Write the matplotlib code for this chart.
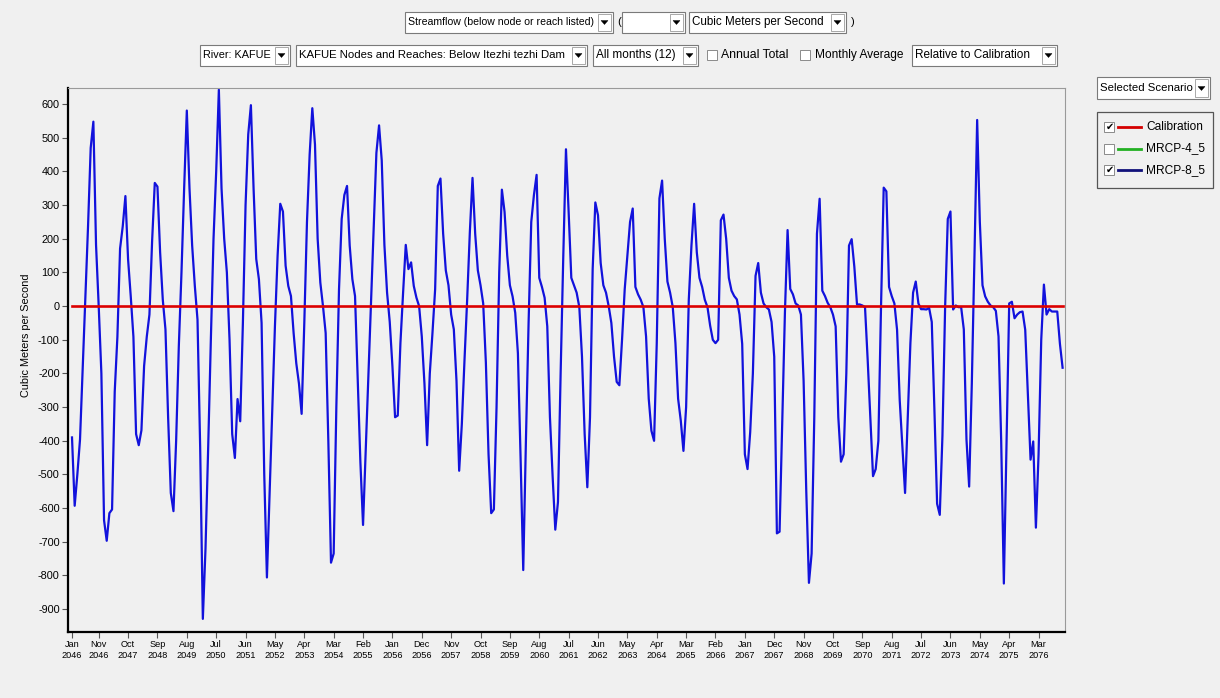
import matplotlib
matplotlib.use("Agg")
import matplotlib.pyplot as plt
from matplotlib.patches import Rectangle, Polygon

W, H = 1220, 698

# x tick labels (one every 11 months, first one at the start)
tick_labels = [
    "Jan\n2046", "Nov\n2046", "Oct\n2047", "Sep\n2048", "Aug\n2049", "Jul\n2050",
    "Jun\n2051", "May\n2052", "Apr\n2053", "Mar\n2054", "Feb\n2055", "Jan\n2056",
    "Dec\n2056", "Nov\n2057", "Oct\n2058", "Sep\n2059", "Aug\n2060", "Jul\n2061",
    "Jun\n2062", "May\n2063", "Apr\n2064", "Mar\n2065", "Feb\n2066", "Jan\n2067",
    "Dec\n2067", "Nov\n2068", "Oct\n2069", "Sep\n2070", "Aug\n2071", "Jul\n2072",
    "Jun\n2073", "May\n2074", "Apr\n2075", "Mar\n2076",
]

# monthly streamflow relative to calibration, Jan 2046 .. Dec 2076 (one row per year)
mrcp_8_5 = [
    -390, -593, -500, -396, -186, 25, 236, 470, 548, 182, 0, -200,
    -636, -697, -615, -604, -254, -91, 171, 237, 327, 139, 29, -91,
    -380, -413, -369, -178, -91, -25, 193, 366, 355, 160, 19, -69,
    -331, -555, -609, -400, -120, 100, 350, 581, 350, 180, 60, -40,
    -420, -929, -720, -420, -100, 200, 400, 643, 350, 200, 100, -100,
    -380, -451, -276, -342, -50, 300, 510, 597, 350, 140, 80, -50,
    -500, -806, -560, -310, -60, 150, 304, 281, 120, 60, 30, -80,
    -170, -230, -320, -50, 250, 450, 588, 480, 200, 70, 0, -80,
    -400, -762, -735, -300, 50, 259, 330, 357, 180, 80, 30, -216,
    -462, -650, -427, -206, 14, 235, 455, 537, 433, 182, 40, -47,
    -178, -330, -325, -110, 40, 182, 110, 130, 60, 25, 0, -90,
    -230, -413, -200, -80, 50, 357, 379, 215, 106, 62, -25, -69,
    -222, -489, -350, -160, 20, 220, 381, 215, 106, 62, 8, -167,
    -440, -615, -604, -300, 100, 346, 280, 150, 62, 29, -20, -140,
    -450, -784, -400, -50, 250, 330, 390, 84, 57, 25, -60, -330,
    -505, -664, -582, -200, 150, 466, 280, 84, 62, 40, -3, -150,
    -380, -538, -330, 110, 308, 270, 128, 62, 40, 0, -50, -150,
    -225, -235, -100, 50, 150, 250, 290, 57, 35, 19, -3, -90,
    -275, -370, -400, -110, 320, 373, 200, 73, 40, -3, -110, -275,
    -340, -430, -300, 19, 180, 304, 160, 84, 57, 19, -3, -58,
    -100, -110, -100, 255, 272, 200, 84, 46, 30, 20, -25, -112,
    -440, -484, -374, -200, 90, 128, 40, 8, -3, -10, -47, -150,
    -675, -670, -350, -20, 226, 51, 35, 8, 2, -25, -222, -550,
    -822, -735, -331, 215, 319, 46, 30, 10, -3, -25, -60, -330,
    -462, -440, -200, 180, 199, 117, 5, 5, 2, -3, -160, -330,
    -505, -484, -400, 0, 352, 341, 57, 30, 8, -70, -280, -420,
    -555, -330, -110, 40, 73, 8, -9, -9, -10, -5, -47, -310,
    -587, -620, -385, -3, 259, 281, -10, 2, -3, -3, -69, -396,
    -536, -230, 150, 553, 250, 62, 29, 13, 2, -3, -14, -90,
    -400, -824, -400, 8, 13, -36, -25, -18, -16, -70, -260, -456,
    -402, -658, -440, -100, 64, -25, -9, -16, -16, -16, -112, -183,
]
# calibration is the reference, so relative to itself it is zero everywhere
calibration = [0] * len(mrcp_8_5)

y_ticks = list(range(-900, 700, 100))

legend_items = [("Calibration", "#d40000", True),
                ("MRCP-4_5", "#22b022", False),
                ("MRCP-8_5", "#10107a", True)]

plt.rcParams['font.family'] = ['Liberation Sans', 'DejaVu Sans']
BG = '#f0f0f0'

fig = plt.figure(figsize=(W / 100, H / 100), dpi=100, facecolor=BG)


def fx(x):
    return x / W


def fy(y):
    return 1 - y / H


def box(x0, y0, x1, y1, face='white', edge='#7a7a7a', lw=0.8):
    fig.patches.append(Rectangle((fx(x0), fy(y1)), fx(x1) - fx(x0), fy(y0) - fy(y1),
                                 transform=fig.transFigure, facecolor=face,
                                 edgecolor=edge, linewidth=lw))


def arrow_button(x1, yc, h):
    box(x1 - 15, yc - h / 2 + 2, x1 - 2, yc + h / 2 - 2, face='white', edge='#9a9a9a', lw=0.6)
    cx = x1 - 8.5
    tri = [(fx(cx - 3.5), fy(yc - 1.5)), (fx(cx + 3.5), fy(yc - 1.5)), (fx(cx), fy(yc + 2.5))]
    fig.patches.append(Polygon(tri, closed=True, transform=fig.transFigure,
                               facecolor='black', edgecolor='black', linewidth=0.3))


def combo(x0, x1, yc, text, h=21, size=8.2):
    box(x0, yc - h / 2, x1, yc + h / 2)
    arrow_button(x1, yc, h)
    if text:
        fig.text(fx(x0 + 3), fy(yc), text, fontsize=size, va='center', ha='left')


def checkbox(x0, yc, checked, size=10):
    box(x0, yc - size / 2, x0 + size, yc + size / 2, face='white', edge='#8a8a8a', lw=0.7)
    if checked:
        fig.text(fx(x0 + size / 2 + 0.5), fy(yc), '\u2714', fontsize=7, ha='center',
                 va='center', family=['DejaVu Sans'])


# top selector rows
combo(405, 613, 22, "Streamflow (below node or reach listed)", size=7.6)
fig.text(fx(617), fy(22), "(", fontsize=8, va='center')
combo(622, 685, 22, "")
combo(689, 846, 22, "Cubic Meters per Second", size=8.4)
fig.text(fx(851), fy(22), ")", fontsize=8, va='center')

combo(200, 290, 55, "River: KAFUE", size=7.8)
combo(296, 587, 55, "KAFUE Nodes and Reaches: Below Itezhi tezhi Dam", size=8.2)
combo(593, 698, 55, "All months (12)", size=8.5)
checkbox(707, 55, False)
fig.text(fx(721), fy(55), "Annual Total", fontsize=8.8, va='center')
checkbox(800, 55, False)
fig.text(fx(815), fy(55), "Monthly Average", fontsize=8.6, va='center')
combo(912, 1057, 55, "Relative to Calibration", size=8.5)

# scenario selector and legend on the right
combo(1097, 1210, 88, "Selected Scenario", size=8.2)
box(1097, 112, 1213, 188, face=BG, edge='#555555', lw=0.9)
for i, (name, col, on) in enumerate(legend_items):
    yc = 127 + i * 21.5
    checkbox(1104, yc, on)
    fig.lines.append(plt.Line2D([fx(1118), fx(1141)], [fy(yc), fy(yc)], color=col,
                                lw=2, transform=fig.transFigure))
    fig.text(fx(1146), fy(yc), name, fontsize=8.6, va='center')

# main chart
ax = fig.add_axes([fx(68), fy(632), fx(1065) - fx(68), fy(88) - fy(632)])
ax.set_facecolor(BG)
months = list(range(len(mrcp_8_5)))
tick_pos = [0] + list(range(10, len(mrcp_8_5), 11))

ax.plot(months, mrcp_8_5, color='#1212dc', lw=1.6, zorder=2)
ax.plot(months, calibration, color='#dc0000', lw=1.9, zorder=3)

ax.set_xlim(-1.5, len(mrcp_8_5) - 0.1)
ax.set_ylim(-968, 648)
ax.set_xticks(tick_pos)
ax.set_xticklabels(tick_labels, fontsize=6.6, linespacing=1.3)
ax.set_yticks(y_ticks)
ax.set_yticklabels([str(v) for v in y_ticks], fontsize=7.8)
ax.tick_params(axis='both', direction='out', length=4, width=0.8, color='#555555', pad=2)
ax.tick_params(axis='x', pad=1.5)

for side in ['left', 'bottom']:
    ax.spines[side].set_color('black')
    ax.spines[side].set_linewidth(1.6)
for side in ['top', 'right']:
    ax.spines[side].set_color('#9a9a9a')
    ax.spines[side].set_linewidth(0.8)

ax.set_ylabel("Cubic Meters per Second", fontsize=7.8)
ax.yaxis.set_label_coords(-0.037, 0.545)

fig.savefig("out.png", dpi=100, facecolor=BG)
